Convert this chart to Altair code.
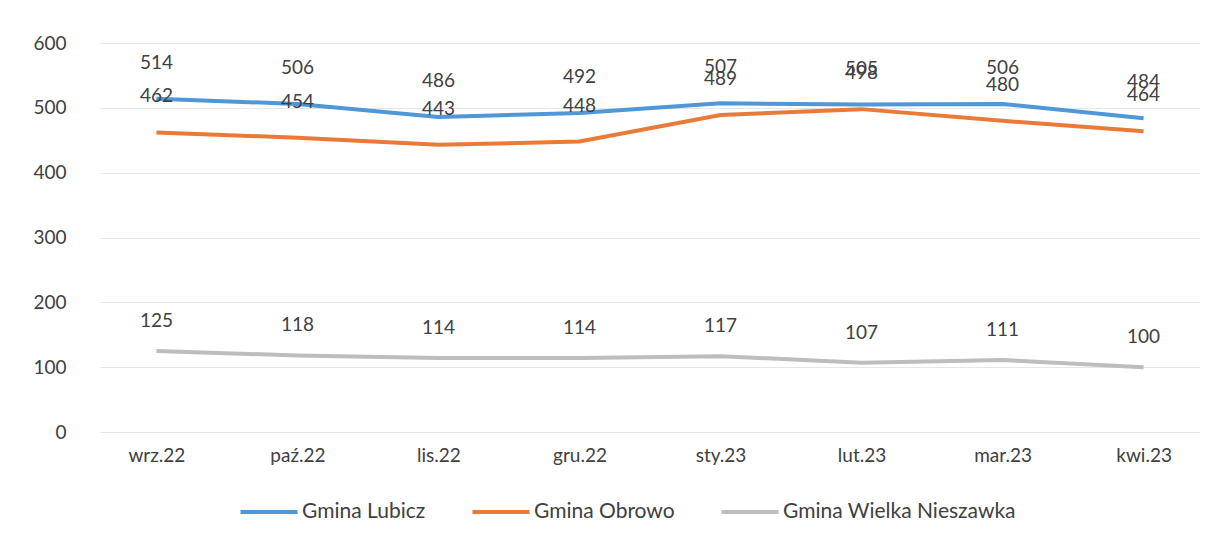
import altair as alt
import pandas as pd

months = ["wrz.22", "paź.22", "lis.22", "gru.22", "sty.23", "lut.23", "mar.23", "kwi.23"]
series_names = ["Gmina Lubicz", "Gmina Obrowo", "Gmina Wielka Nieszawka"]
lubicz = [514, 506, 486, 492, 507, 505, 506, 484]
obrowo = [462, 454, 443, 448, 489, 498, 480, 464]
wielka = [125, 118, 114, 114, 117, 107, 111, 100]
colors = ["#4F97D6", "#EA7A38", "#BDBDBD"]

rows = []
for name, vals in zip(series_names, [lubicz, obrowo, wielka]):
    for m, v in zip(months, vals):
        rows.append({"month": m, "series": name, "value": v})
df = pd.DataFrame(rows)

FONT = "Lato"
TXT = "#404040"

x = alt.X("month:N", sort=months, title=None,
          scale=alt.Scale(type="point", padding=0.4),
          axis=alt.Axis(labelFont=FONT, labelFontSize=19, labelColor=TXT,
                        labelPadding=14, ticks=False, domain=False, grid=False,
                        labelAngle=0))
y = alt.Y("value:Q", title=None,
          scale=alt.Scale(domain=[0, 600], nice=False),
          axis=alt.Axis(values=[0, 100, 200, 300, 400, 500, 600],
                        labelFont=FONT, labelFontSize=19, labelColor=TXT,
                        labelPadding=34, minExtent=92, ticks=False,
                        domain=False, gridColor="#E6E6E6", gridWidth=1))
color = alt.Color("series:N", sort=series_names,
                  scale=alt.Scale(domain=series_names, range=colors),
                  legend=alt.Legend(title=None, orient="none", direction="horizontal",
                                    legendX=138, legendY=438,
                                    symbolType="stroke", symbolSize=3250,
                                    symbolStrokeWidth=4, labelFont=FONT,
                                    labelFontSize=21, labelColor=TXT,
                                    labelLimit=0, labelOffset=2, columnPadding=38))

base = alt.Chart(df)
lines = base.mark_line(strokeWidth=4).encode(x=x, y=y, color=color)

labels_top = base.transform_filter(
    alt.datum.series != "Gmina Wielka Nieszawka"
).mark_text(font=FONT, fontSize=19, color=TXT, dy=-36).encode(
    x=x, y=y, text="value:Q")
labels_gray = base.transform_filter(
    alt.datum.series == "Gmina Wielka Nieszawka"
).mark_text(font=FONT, fontSize=19, color=TXT, dy=-30).encode(
    x=x, y=y, text="value:Q")

chart = alt.layer(lines, labels_top, labels_gray).properties(
    width=1100, height=389, background="white",
    padding={"left": 0, "top": 26, "right": 0, "bottom": 0}
).configure_view(stroke=None)

chart.save("out.html", embed_options={"renderer": "svg", "actions": False})
